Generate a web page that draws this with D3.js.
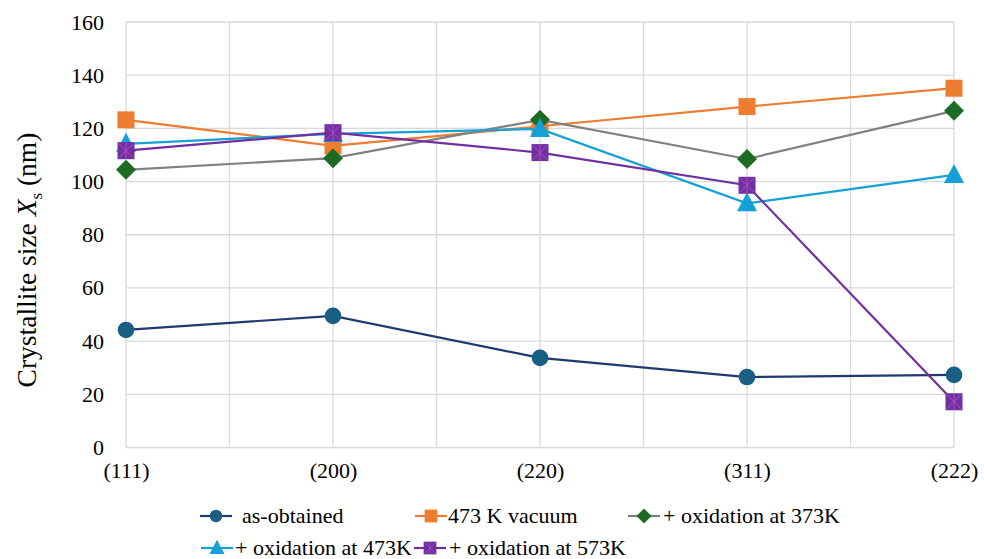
<!DOCTYPE html>
<html>
<head>
<meta charset="utf-8">
<script src="https://cdn.jsdelivr.net/npm/d3@7/dist/d3.min.js"></script>
<style>
  body { margin: 0; background: #fff; }
</style>
</head>
<body>
<svg width="984" height="559"></svg>
<script>
// categories + series values
const planes = ["(111)", "(200)", "(220)", "(311)", "(222)"];
const yTicks = [0, 20, 40, 60, 80, 100, 120, 140, 160];

const asObtained = [44.2, 49.5, 33.7, 26.5, 27.3];
const vacuum473 = [123.2, 113.4, 120.8, 128.2, 135.1];
const ox373 = [104.4, 108.8, 123.2, 108.5, 126.6];
const ox473 = [114.2, 117.9, 119.8, 91.8, 102.5];
const ox573 = [111.6, 118.4, 110.9, 98.6, 17.2];

const seriesNames = ["as-obtained", "473 K vacuum", "+ oxidation at 373K", "+ oxidation at 473K", "+ oxidation at 573K"];

const FONT = "'Liberation Serif', Tinos, 'Times New Roman', Times, 'DejaVu Serif', serif";

const svg = d3.select("svg");
const margin = {left: 126, right: 30, top: 22, bottom: 111.5};
const width = 984 - margin.left - margin.right;
const height = 559 - margin.top - margin.bottom;

const x = d3.scalePoint().domain(planes).range([0, width]);
const y = d3.scaleLinear().domain([0, 160]).range([height, 0]);

const g = svg.append("g").attr("transform", `translate(${margin.left},${margin.top})`);

// gridlines - horizontal
g.append("g")
  .selectAll("line")
  .data(yTicks)
  .enter().append("line")
  .attr("x1", 0).attr("x2", width)
  .attr("y1", d => y(d)).attr("y2", d => y(d))
  .attr("stroke", "#d9d9d9").attr("stroke-width", 1.3);

// vertical gridlines at categories and between them
const step = x.step();
const vLines = d3.range(0, planes.length * 2 - 1).map(i => i * step / 2);
g.append("g")
  .selectAll("line")
  .data(vLines)
  .enter().append("line")
  .attr("x1", d => d).attr("x2", d => d)
  .attr("y1", 0).attr("y2", height)
  .attr("stroke", "#d9d9d9").attr("stroke-width", 1.3);

// y axis labels
const yAxis = g.append("g").call(d3.axisLeft(y).tickValues(yTicks).tickSize(0).tickPadding(22));
yAxis.attr("font-family", null);
yAxis.select(".domain").remove();
yAxis.selectAll("text")
  .style("font-family", FONT)
  .style("font-size", "22px")
  .attr("fill", "#000");

// x axis labels
const xAxis = g.append("g")
  .attr("transform", `translate(0,${height})`)
  .call(d3.axisBottom(x).tickSize(0).tickPadding(15));
xAxis.attr("font-family", null);
xAxis.select(".domain").remove();
xAxis.selectAll("text")
  .style("font-family", FONT)
  .style("font-size", "22px")
  .attr("fill", "#000");

// y title
const yTitle = svg.append("text")
  .attr("transform", "translate(36,260) rotate(-90)")
  .attr("text-anchor", "middle")
  .style("font-family", FONT)
  .style("font-size", "27.5px")
  .attr("fill", "#000");
yTitle.append("tspan").text("Crystallite size ");
yTitle.append("tspan").attr("font-style", "italic").text("X");
yTitle.append("tspan").style("font-size", "17px").attr("dy", 6).text("s");
yTitle.append("tspan").attr("dy", -6).text(" (nm)");

const series = [
  {name: seriesNames[0], values: asObtained, line: "#1f3a70", fill: "#1a5e83", shape: "circle"},
  {name: seriesNames[1], values: vacuum473, line: "#ed7d31", fill: "#ed7d31", shape: "square"},
  {name: seriesNames[2], values: ox373, line: "#808080", fill: "#1e6b24", shape: "diamond"},
  {name: seriesNames[3], values: ox473, line: "#15a0d8", fill: "#15a0d8", shape: "triangle"},
  {name: seriesNames[4], values: ox573, line: "#7030a0", fill: "#7030a0", shape: "star"}
];

function drawMarker(sel, shape, fill, cx, cy, k) {
  k = k || 1;
  const m = sel.append("g").attr("transform", `translate(${cx},${cy}) scale(${k})`);
  if (shape === "circle") {
    m.append("circle").attr("r", 8.3).attr("fill", fill);
  } else if (shape === "square") {
    m.append("rect").attr("x", -8.5).attr("y", -8.5).attr("width", 17).attr("height", 17).attr("fill", fill);
  } else if (shape === "diamond") {
    m.append("path").attr("d", "M0,-10L10,0L0,10L-10,0Z").attr("fill", fill);
  } else if (shape === "triangle") {
    m.append("path").attr("d", "M0,-11L10,8L-10,8Z").attr("fill", fill);
  } else if (shape === "star") {
    m.append("rect").attr("x", -8.5).attr("y", -8.5).attr("width", 17).attr("height", 17).attr("fill", fill);
    m.append("path")
      .attr("d", "M-7,-7L7,7M7,-7L-7,7M0,-8L0,8")
      .attr("stroke", "#b04ad0").attr("stroke-width", 1).attr("fill", "none");
  }
}

const line = d3.line().x((d, i) => x(planes[i])).y(d => y(d));

series.forEach(s => {
  const sg = g.append("g");
  sg.append("path")
    .datum(s.values)
    .attr("d", line)
    .attr("fill", "none")
    .attr("stroke", s.line)
    .attr("stroke-width", 2.2);
  s.values.forEach((v, i) => drawMarker(sg, s.shape, s.fill, x(planes[i]), y(v)));
});

// legend
const legendPos = [
  {x: 200, y: 516}, {x: 415, y: 516}, {x: 628, y: 516},
  {x: 201, y: 548}, {x: 414, y: 548}
];
const textGap = [10, 1, 3, 2, 3];
series.forEach((s, i) => {
  const p = legendPos[i];
  const lg = svg.append("g");
  lg.append("line")
    .attr("x1", p.x).attr("x2", p.x + 32)
    .attr("y1", p.y).attr("y2", p.y)
    .attr("stroke", s.line).attr("stroke-width", 2.2);
  drawMarker(lg, s.shape, s.fill, p.x + 16, p.y, 0.75);
  lg.append("text")
    .attr("x", p.x + 32 + textGap[i])
    .attr("y", p.y + 7)
    .style("font-family", FONT)
    .style("font-size", "22px")
    .attr("fill", "#000")
    .text(s.name);
});
</script>
</body>
</html>
